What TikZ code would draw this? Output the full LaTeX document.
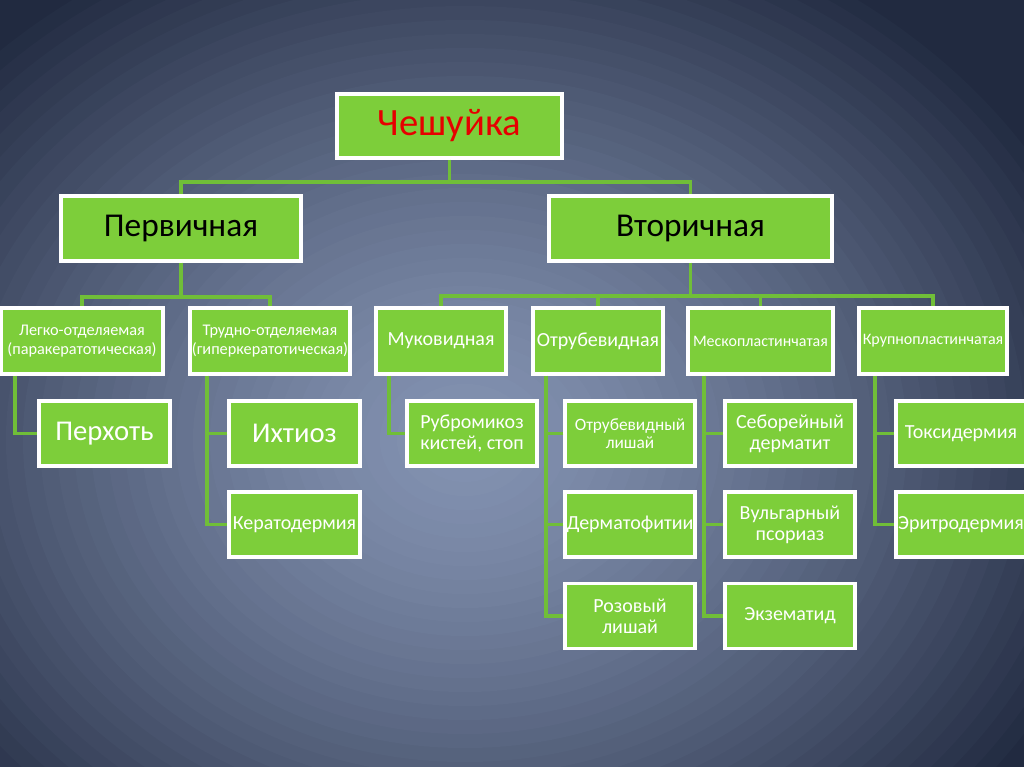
\documentclass[tikz,border=0pt]{standalone}
\usepackage{fontspec}
\setmainfont{Carlito}
\definecolor{boxgreen}{RGB}{125,206,58}
\definecolor{linegreen}{RGB}{112,190,56}
\definecolor{titlered}{RGB}{230,0,0}
\definecolor{bgA}{RGB}{132,147,178}
\definecolor{bgD}{RGB}{33,42,64}
\tikzset{
  bx/.style 2 args={draw=white, line width=2.4pt, fill=boxgreen, inner sep=0pt,
    minimum width=#1*0.75pt, minimum height=#2*0.75pt, align=center, text=white},
  conn/.style={draw=linegreen, line width=2.3pt, line cap=butt, line join=miter},
  fA/.style={font=\fontsize{29}{32}\selectfont},
  fB/.style={font=\fontsize{25}{28}\selectfont},
  fL/.style={font=\fontsize{12.2}{14}\selectfont},
  fM/.style={font=\fontsize{15}{16}\selectfont},
  fS/.style={font=\fontsize{12}{13}\selectfont},
  fP/.style={font=\fontsize{21.5}{23}\selectfont},
  fQ/.style={font=\fontsize{15}{15.8}\selectfont},
  fR/.style={font=\fontsize{13}{13.5}\selectfont},
}
\begin{document}
\begin{tikzpicture}[x=0.75pt,y=-0.75pt]
\useasboundingbox (0,0) rectangle (1024,767);
\begin{scope}
\clip (0,0) rectangle (1024,767);
\fill[bgD] (0,0) rectangle (1024,767);
\foreach \i in {0,...,43} {
  \pgfmathsetmacro\rr{1.1-\i*0.025}
  \pgfmathsetmacro\tt{100*(1-min(1,\rr)^1.4)}
  \fill[color=bgA!\tt!bgD] (465,440) ellipse [x radius=680*\rr, y radius=560*\rr];
}
\end{scope}
% level 1
\node[bx={225}{64}, fA, text=titlered] (ches) at (449.5,126) {Чешуйка};
% level 2
\node[bx={240}{65}, fB, text=black] (perv) at (181,228.5) {Первичная};
\node[bx={283}{65}, fB, text=black] (vtor) at (690.5,228.5) {Вторичная};
% level 3
\node[bx={162}{66}, fL] (legko) at (82,341) {Легко-отделяемая\\(паракератотическая)};
\node[bx={160}{66}, fL] (trud) at (270,341) {Трудно-отделяемая\\(гиперкератотическая)};
\node[bx={130}{66}, fM] (muk) at (441,341) {Муковидная};
\node[bx={130}{66}, fM] (otr) at (598,341) {Отрубевидная};
\node[bx={145}{66}, fS] (mesk) at (760.5,341) {Мескопластинчатая};
\node[bx={148}{66}, fS] (krup) at (933,341) {Крупнопластинчатая};
% level 4
\node[bx={131}{65}, fP] (perh) at (104.5,433.5) {Перхоть};
\node[bx={131}{65}, fP] (iht) at (294.5,433.5) {Ихтиоз};
\node[bx={131}{65}, fQ] (kerat) at (294.5,524.5) {Кератодермия};
\node[bx={130}{65}, fQ] (rubr) at (472,433.5) {Рубромикоз\\кистей, стоп};
\node[bx={130}{65}, fR] (otrl) at (630,433.5) {Отрубевидный\\лишай};
\node[bx={130}{65}, fQ] (derm) at (630,524.5) {Дерматофитии};
\node[bx={130}{65}, fQ] (roz) at (630,616) {Розовый\\лишай};
\node[bx={130}{65}, fQ] (sebor) at (790,433.5) {Себорейный\\дерматит};
\node[bx={130}{65}, fQ] (vulg) at (790,524.5) {Вульгарный\\псориаз};
\node[bx={130}{65}, fQ] (ekz) at (790,616) {Экзематид};
\node[bx={130}{65}, fQ] (toks) at (961,433.5) {Токсидермия};
\node[bx={130}{65}, fQ] (erit) at (961,524.5) {Эритродермия};
% connectors level 1 -> 2
\draw[conn] (ches.south) -- (ches.south |- 0,182) -| (perv.north);
\draw[conn] (ches.south |- 0,182) -| (vtor.north);
% level 2 -> 3
\draw[conn] (perv.south) -- (perv.south |- 0,297) -| (legko.north);
\draw[conn] (perv.south |- 0,297) -| (trud.north);
\draw[conn] (vtor.south) -- (vtor.south |- 0,296) -| (muk.north);
\draw[conn] (vtor.south |- 0,296) -| (otr.north);
\draw[conn] (vtor.south |- 0,296) -| (mesk.north);
\draw[conn] (vtor.south |- 0,296) -| (krup.north);
% level 3 -> 4
\draw[conn] (legko.south -| 15,0) |- (perh.west);
\draw[conn] (trud.south -| 207,0) |- (kerat.west);
\draw[conn] (iht.west) -- (iht.west -| 207,0);
\draw[conn] (muk.south -| 389,0) |- (rubr.west);
\draw[conn] (otr.south -| 546,0) |- (roz.west);
\draw[conn] (otrl.west) -- (otrl.west -| 546,0);
\draw[conn] (derm.west) -- (derm.west -| 546,0);
\draw[conn] (mesk.south -| 704,0) |- (ekz.west);
\draw[conn] (sebor.west) -- (sebor.west -| 704,0);
\draw[conn] (vulg.west) -- (vulg.west -| 704,0);
\draw[conn] (krup.south -| 875,0) |- (erit.west);
\draw[conn] (toks.west) -- (toks.west -| 875,0);
\end{tikzpicture}
\end{document}
